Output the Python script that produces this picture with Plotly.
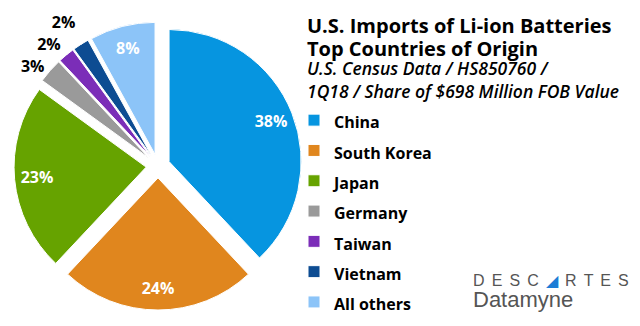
import plotly.graph_objects as go

categories = ["China", "South Korea", "Japan", "Germany", "Taiwan", "Vietnam", "All others"]
shares = [38, 24, 23, 3, 2, 2, 8]
colors = ["#0695E0", "#E0861E", "#66A300", "#9A9A9A", "#7B2DB8", "#0D4C92", "#8CC4F8"]
label_positions = ["inside", "inside", "inside", "outside", "outside", "outside", "inside"]

title_lines = ["U.S. Imports of Li-ion Batteries", "Top Countries of Origin"]
subtitle_lines = ["U.S. Census Data / HS850760 /", "1Q18 / Share of $698 Million FOB Value"]

FONT = "Open Sans"
PULL = 0.09
H = 326
DOMAIN = dict(x=[14 / 640, 302 / 640], y=[16 / H, 304 / H])

legend_labels = [f"<span style='font-size:16px'>{c}</span>" for c in categories]
text_templates = [
    "%{percent}" if p == "inside" else "<span style='color:black'>%{percent}</span>"
    for p in label_positions
]

fig = go.Figure()

# coloured slices (legend source)
fig.add_trace(go.Pie(
    labels=legend_labels,
    values=shares,
    sort=False,
    direction="clockwise",
    rotation=0,
    pull=PULL,
    domain=DOMAIN,
    marker=dict(colors=colors, line=dict(color="white", width=1)),
    textinfo="none",
    hoverinfo="label+percent",
    showlegend=True,
))

# transparent ring carrying the percentage labels near the rim
fig.add_trace(go.Pie(
    labels=categories,
    values=shares,
    sort=False,
    direction="clockwise",
    rotation=0,
    pull=PULL,
    hole=0.66,
    domain=DOMAIN,
    marker=dict(colors=["rgba(0,0,0,0)"] * len(categories), line=dict(width=0)),
    texttemplate=text_templates,
    textposition=label_positions,
    insidetextorientation="horizontal",
    insidetextfont=dict(family=FONT, size=16, color="white", weight="bold"),
    outsidetextfont=dict(family=FONT, size=16, color="white", weight="bold"),
    hoverinfo="skip",
    showlegend=False,
))

# title block, one annotation per line
title_centers = [26.0, 48.8]
for t, yc in zip(title_lines, title_centers):
    fig.add_annotation(
        text=t, xref="paper", yref="paper", x=305 / 640, y=1 - yc / H,
        xanchor="left", yanchor="middle", showarrow=False,
        font=dict(family=FONT, size=20, color="black", weight="bold"),
    )
subtitle_centers = [68.0, 90.5]
for t, yc in zip(subtitle_lines, subtitle_centers):
    fig.add_annotation(
        text=t, xref="paper", yref="paper", x=305 / 640, y=1 - yc / H,
        xanchor="left", yanchor="middle", showarrow=False,
        font=dict(family=FONT, size=17.5, color="black", style="italic", weight=600),
    )

# logo
gap = " \u2006"
fig.add_annotation(
    text=gap.join(["D", "E", "S", "C", "<span style='color:#1C7DD6'>◢</span>", "R", "T", "E", "S"]),
    xref="paper", yref="paper", x=471 / 640, y=1 - 280 / H,
    xanchor="left", yanchor="middle", showarrow=False,
    font=dict(family="Liberation Sans", size=16, color="#555555"),
)
fig.add_annotation(
    text="Datamyne",
    xref="paper", yref="paper", x=471 / 640, y=1 - 299 / H,
    xanchor="left", yanchor="middle", showarrow=False,
    font=dict(family="Liberation Sans", size=22, color="#555555"),
)

fig.update_layout(
    width=640, height=H,
    margin=dict(l=0, r=0, t=0, b=0, autoexpand=False),
    paper_bgcolor="white", plot_bgcolor="white",
    legend=dict(
        x=294 / 640, y=1 - 100 / H, xanchor="left", yanchor="top",
        font=dict(family=FONT, size=21, color="black", weight="bold"),
        bgcolor="rgba(0,0,0,0)", traceorder="normal",
    ),
)

fig.write_html("out.html")
